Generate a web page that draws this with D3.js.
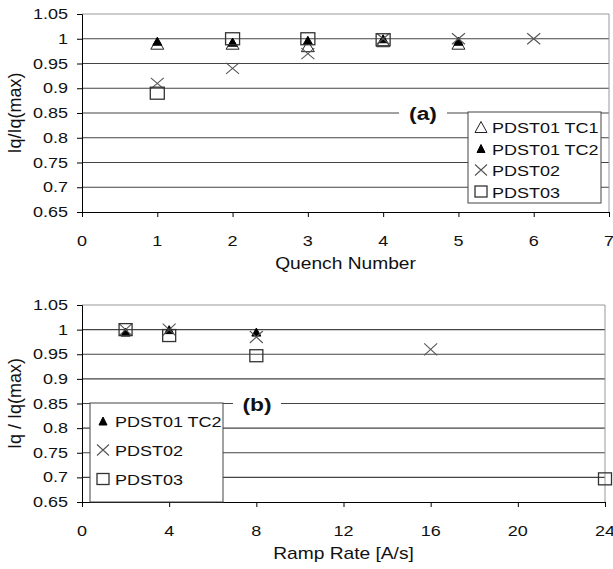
<!DOCTYPE html>
<html>
<head>
<meta charset="utf-8">
<script src="https://cdn.jsdelivr.net/npm/d3@7"></script>
<style>
  body { margin: 0; background: #fff; }
  text { font-family: "Liberation Sans", Arial, sans-serif; fill: #111; }
</style>
</head>
<body>
<script>
// Panel (a): quench history
var quenchX = [1, 2, 3, 4, 5, 6];
var aTC1 = [0.99, 0.99, 0.985, 0.995, 0.99, null];
var aTC2 = [0.995, 0.993, 0.997, 1.0, 0.995, null];
var aP02 = [0.91, 0.94, 0.97, 1.0, 1.0, 1.0];
var aP03 = [0.89, 1.0, 1.0, 0.998, null, null];

// Panel (b): ramp rate study
var rampX = [2, 4, 8, 16, 24];
var bTC2 = [0.995, 1.0, 0.995, null, null];
var bP02 = [1.0, 1.0, 0.985, 0.96, null];
var bP03 = [1.0, 0.988, 0.947, null, 0.697];

var yTicks = [0.65, 0.7, 0.75, 0.8, 0.85, 0.9, 0.95, 1, 1.05];
var quenchTicks = [0, 1, 2, 3, 4, 5, 6, 7];
var rampTicks = [0, 4, 8, 12, 16, 20, 24];

var SX = 1.2; // the source text is drawn wide

var svg = d3.select("body").append("svg")
    .attr("width", 613)
    .attr("height", 569);

function label(g, x, y, s, anchor, size, weight) {
    return g.append("text")
        .attr("transform", "translate(" + x + "," + y + ") scale(" + SX + ",1)")
        .attr("text-anchor", anchor)
        .style("font-size", size + "px")
        .style("font-weight", weight || "normal")
        .text(s);
}

// marker shapes, w x h box centred on the point
function marker(g, kind, cx, cy, w, h) {
    if (kind == "tri" || kind == "triFill") {
        g.append("path")
            .attr("d", "M" + cx + "," + (cy - h / 2) + "L" + (cx + w / 2) + "," + (cy + h / 2) + "L" + (cx - w / 2) + "," + (cy + h / 2) + "Z")
            .attr("fill", kind == "triFill" ? "#000" : "none")
            .attr("stroke", kind == "triFill" ? "#000" : "#222")
            .attr("stroke-width", 1);
    } else if (kind == "cross") {
        g.append("path")
            .attr("d", "M" + (cx - w / 2) + "," + (cy - h / 2) + "L" + (cx + w / 2) + "," + (cy + h / 2) +
                "M" + (cx + w / 2) + "," + (cy - h / 2) + "L" + (cx - w / 2) + "," + (cy + h / 2))
            .attr("stroke", "#555")
            .attr("stroke-width", 1.1)
            .attr("fill", "none");
    } else if (kind == "square") {
        g.append("rect")
            .attr("x", cx - w / 2).attr("y", cy - h / 2)
            .attr("width", w).attr("height", h)
            .attr("fill", "none")
            .attr("stroke", "#333")
            .attr("stroke-width", 1.3);
    }
}

var fmt = function(d) { return String(+d.toFixed(2)); };

function drawPanel(cfg) {
    var g = svg.append("g");
    var x = d3.scaleLinear().domain(cfg.xDomain).range([82, cfg.right]);
    var y = d3.scaleLinear().domain([0.65, 1.05]).range([cfg.bottom, cfg.top]);

    // gridlines
    g.selectAll(".grid")
        .data(yTicks.slice(1))
        .enter().append("line")
        .attr("x1", 82).attr("x2", cfg.right)
        .attr("y1", function(d) { return y(d); })
        .attr("y2", function(d) { return y(d); })
        .attr("stroke", function(d) { return d == 1.05 ? "#999" : "#444"; })
        .attr("stroke-width", 1.2);

    // right border of plot area
    g.append("line")
        .attr("x1", cfg.right).attr("x2", cfg.right)
        .attr("y1", cfg.top).attr("y2", cfg.bottom)
        .attr("stroke", "#999");

    // label on the 0.85 line, with white patch behind it
    g.append("rect")
        .attr("x", cfg.tagX - 24).attr("y", y(0.85) - 11)
        .attr("width", 48).attr("height", 22)
        .attr("fill", "#fff");
    label(g, cfg.tagX, y(0.85) + 7, cfg.tag, "middle", 19, "bold");

    // axes
    var yAxis = d3.axisLeft(y).tickValues(yTicks).tickSize(5).tickFormat("");
    g.append("g").attr("transform", "translate(82,0)").call(yAxis)
        .call(function(s) { s.selectAll("line, path").attr("stroke", "#000"); });
    var xAxis = d3.axisBottom(x).tickValues(cfg.xTicks).tickSize(5).tickSizeOuter(0).tickFormat("");
    g.append("g").attr("transform", "translate(0," + cfg.bottom + ")").call(xAxis)
        .call(function(s) { s.selectAll("line, path").attr("stroke", "#000"); });

    yTicks.forEach(function(t) {
        label(g, 68, y(t) + 5, fmt(t), "end", 15);
    });
    cfg.xTicks.forEach(function(t) {
        label(g, x(t), cfg.bottom + 34, String(t), "middle", 15);
    });

    label(g, (82 + cfg.right) / 2, cfg.bottom + 57, cfg.xTitle, "middle", 16);
    g.append("text")
        .attr("transform", "translate(21," + (cfg.top + cfg.bottom) / 2 + ") rotate(-90)")
        .attr("text-anchor", "middle")
        .style("font-size", "18px")
        .text(cfg.yTitle);

    // points
    cfg.series.forEach(function(s) {
        cfg.xs.forEach(function(xv, i) {
            if (s.values[i] == null) return;
            marker(g, s.kind, x(xv), y(s.values[i]), s.w, s.h);
        });
    });

    // legend
    var L = cfg.legend;
    g.append("rect")
        .attr("x", L.x).attr("y", L.y)
        .attr("width", L.w).attr("height", L.h)
        .attr("fill", "#fff")
        .attr("stroke", "#444");
    cfg.series.forEach(function(s, i) {
        var cy = L.y + L.first + i * L.step;
        var lw = s.kind == "triFill" ? 8 : 12;
        var lh = s.kind == "triFill" ? 8 : 11;
        marker(g, s.kind, L.x + L.mx, cy, lw, lh);
        label(g, L.x + L.tx, cy + 6, s.name, "start", 15);
    });
}

drawPanel({
    xDomain: [0, 7], right: 609, top: 14, bottom: 212,
    xTicks: quenchTicks, xs: quenchX,
    xTitle: "Quench Number", yTitle: "Iq/Iq(max)",
    tag: "(a)", tagX: 423,
    series: [
        { name: "PDST01 TC1", kind: "tri", values: aTC1, w: 13, h: 11 },
        { name: "PDST01 TC2", kind: "triFill", values: aTC2, w: 9, h: 8 },
        { name: "PDST02", kind: "cross", values: aP02, w: 13, h: 11 },
        { name: "PDST03", kind: "square", values: aP03, w: 14, h: 12 }
    ],
    legend: { x: 468, y: 112, w: 133, h: 91, first: 15, step: 21.5, mx: 13, tx: 24 }
});

drawPanel({
    xDomain: [0, 24], right: 605, top: 305, bottom: 502,
    xTicks: rampTicks, xs: rampX,
    xTitle: "Ramp Rate [A/s]", yTitle: "Iq / Iq(max)",
    tag: "(b)", tagX: 257,
    series: [
        { name: "PDST01 TC2", kind: "triFill", values: bTC2, w: 9, h: 8 },
        { name: "PDST02", kind: "cross", values: bP02, w: 13, h: 12 },
        { name: "PDST03", kind: "square", values: bP03, w: 13, h: 12 }
    ],
    legend: { x: 90, y: 403, w: 133, h: 99, first: 18, step: 29, mx: 13, tx: 25 }
});
</script>
</body>
</html>
